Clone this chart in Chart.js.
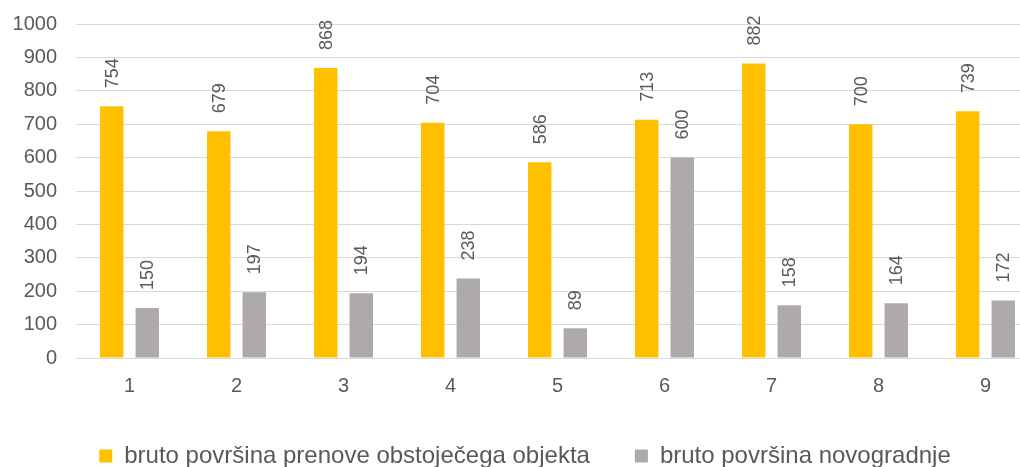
<!DOCTYPE html>
<html>
<head>
<meta charset="utf-8">
<script src="https://cdn.jsdelivr.net/npm/chart.js@4"></script>
<style>
  html, body { margin: 0; padding: 0; background: #fff; overflow: hidden; }
  #wrap { width: 1050px; height: 478px; }
</style>
</head>
<body>
<div id="wrap"><canvas id="myChart"></canvas></div>
<script>
const CATEGORIES = ['1', '2', '3', '4', '5', '6', '7', '8', '9'];
const PRENOVA = [754, 679, 868, 704, 586, 713, 882, 700, 739];
const NOVOGRADNJA = [150, 197, 194, 238, 89, 600, 158, 164, 172];
const SERIES_NAMES = ['bruto površina prenove obstoječega objekta', 'bruto površina novogradnje'];
const BAR_COLORS = ['#FFC000', '#AEAAAA'];

const TEXT_COLOR = '#595959';
const FONT = '"Liberation Sans", Arial, sans-serif';

// rotated value labels above each bar
const valueLabels = {
  id: 'valueLabels',
  afterDatasetsDraw(chart) {
    const ctx = chart.ctx;
    ctx.save();
    ctx.fillStyle = TEXT_COLOR;
    ctx.font = '18px ' + FONT;
    ctx.textAlign = 'left';
    ctx.textBaseline = 'middle';
    chart.data.datasets.forEach((ds, i) => {
      chart.getDatasetMeta(i).data.forEach((bar, j) => {
        ctx.save();
        ctx.translate(bar.x, bar.y - 18);
        ctx.rotate(-Math.PI / 2);
        ctx.fillText(String(ds.data[j]), 0, 1);
        ctx.restore();
      });
    });
    ctx.restore();
  }
};

const ctx = document.getElementById('myChart');

new Chart(ctx, {
  type: 'bar',
  data: {
    labels: CATEGORIES,
    datasets: [{
      label: SERIES_NAMES[0],
      data: PRENOVA,
      backgroundColor: BAR_COLORS[0]
    }, {
      label: SERIES_NAMES[1],
      data: NOVOGRADNJA,
      backgroundColor: BAR_COLORS[1]
    }]
  },
  options: {
    responsive: true,
    maintainAspectRatio: false,
    animation: false,
    categoryPercentage: 0.664,
    barPercentage: 0.66,
    layout: { padding: { top: 24, right: 0, left: 0, bottom: 0 } },
    plugins: {
      tooltip: { enabled: false },
      legend: {
        position: 'bottom',
        labels: {
          color: TEXT_COLOR,
          font: { family: FONT, size: 24 },
          boxWidth: 13,
          boxHeight: 13,
          padding: 45
        }
      }
    },
    scales: {
      x: {
        grid: { display: false, drawTicks: false },
        border: { display: true, color: '#D9D9D9' },
        ticks: { color: TEXT_COLOR, font: { family: FONT, size: 20 }, padding: 16 },
        afterFit(scale) { scale.height = 41; }
      },
      y: {
        min: 0,
        max: 1000,
        grid: { color: '#D9D9D9', drawTicks: false },
        border: { display: false },
        ticks: {
          stepSize: 100,
          color: TEXT_COLOR,
          font: { family: FONT, size: 20 },
          padding: 19,
          callback: (v) => String(v)
        },
        afterFit(scale) {
          scale.width = 76;
          scale.paddingTop = 0;
          scale.paddingBottom = 0;
        }
      },
      // empty right-hand spacer so the plot runs past the page edge
      spacer: {
        position: 'right',
        grid: { display: false, drawTicks: false },
        border: { display: false },
        ticks: { display: false },
        afterFit(scale) {
          scale.width = 11;
          scale.paddingTop = 0;
          scale.paddingBottom = 0;
        }
      }
    }
  },
  plugins: [valueLabels]
});
</script>
</body>
</html>
